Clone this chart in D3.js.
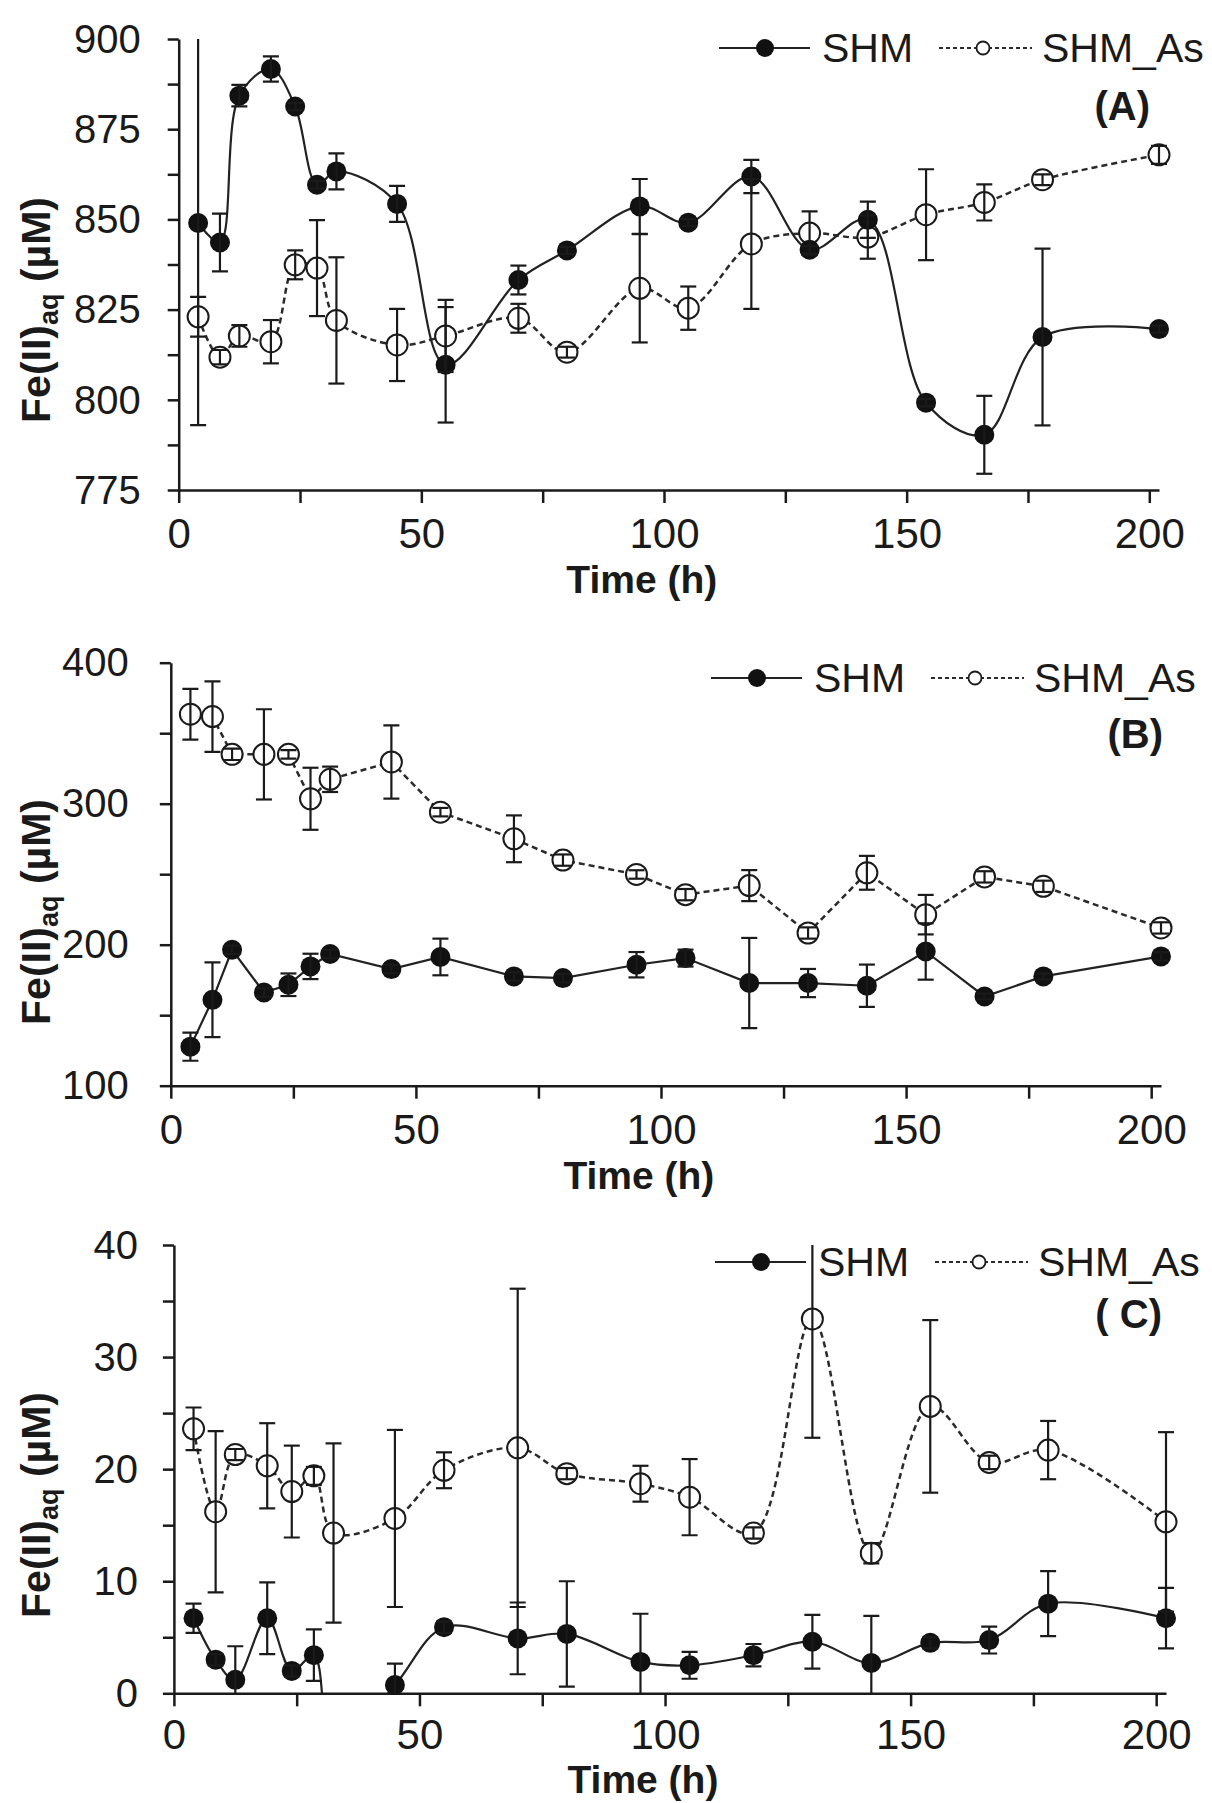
<!DOCTYPE html>
<html>
<head>
<meta charset="utf-8">
<script src="https://cdn.jsdelivr.net/npm/d3@7"></script>
<style>
  body { margin: 0; background: #fff; }
  text { font-family: Arial, "Liberation Sans", sans-serif; fill: #1a1a1a; }
</style>
</head>
<body>
<svg id="fig" width="1212" height="1803"></svg>
<script>
// sampling times (h), shared by all three panels
var times = [4, 8.5, 12.5, 19, 24, 28.5, 32.5, 45, 55, 70, 80, 95, 105, 118, 130, 142, 154, 166, 178, 202];

// (A)
var shmA      = [849, 843.6, 884.3, 891.7, 881.3, 859.6, 863.3, 854.3, 809.7, 833.2, 841.4, 853.6, 849.1, 861.9, 841.6, 849.9, 799.2, 790.3, 817.4, 819.6];
var shmAErr   = [56, 8, 3, 3.5, 1, 1, 5, 5, 16, 4, 1, 7.6, 1, 4.6, 1, 5, 1, 10.8, 24.5, 1];
var shmAsA    = [823, 811.8, 817.7, 816.1, 837.4, 836.5, 822.0, 815.2, 817.7, 822.6, 813.2, 830.9, 825.4, 843.2, 846.2, 845.1, 851.3, 854.7, 861.0, 867.9];
var shmAsAErr = [5.5, 2, 3, 6, 4, 13.3, 17.5, 10, 10, 4, 1.5, 15, 6, 18, 6, 6, 12.6, 5, 1.5, 2.5];

// (B)
var shmB      = [127.7, 160.9, 196.4, 166.1, 171.6, 184.6, 193.4, 182.7, 191.3, 177.5, 176.3, 185.8, 190.5, 172.8, 172.8, 170.9, 195.2, 163.3, 177.5, 191.7];
var shmBErr   = [10, 26.5, 3, 3, 8, 9, 3, 3, 13, 3, 3, 9, 6, 32, 10, 15, 20, 2, 2, 3];
var shmAsB    = [363.5, 361.8, 335, 335, 335, 303.5, 317.3, 329.6, 294, 275.1, 260, 249.8, 235.5, 241.9, 208.3, 251, 221.3, 248.1, 241.4, 211.9];
var shmAsBErr = [18, 25, 4, 32, 3, 22, 9, 26, 3, 16.6, 4, 3, 4, 11, 4, 12, 14, 4, 4, 4];

// (C)  -- point at 32.5 h lies below the axis and is cut off
var shmC      = [6.7, 3.0, 1.2, 6.7, 2.0, 3.4, -5, 0.74, 5.9, 4.9, 5.3, 2.8, 2.5, 3.4, 4.6, 2.7, 4.5, 4.75, 8.0, 6.7];
var shmCErr   = [1.3, 0.5, 3, 3.2, 0.5, 2.3, 0, 1.9, 0.5, 3.2, 4.7, 4.3, 1.2, 1, 2.4, 4.2, 0.5, 1.2, 2.9, 2.7];
var shmAsC    = [23.6, 16.2, 21.3, 20.3, 18.0, 19.4, 14.3, 15.6, 19.9, 21.9, 19.6, 18.7, 17.5, 14.3, 33.4, 12.5, 25.6, 20.6, 21.7, 15.3];
var shmAsCErr = [1.9, 7.2, 0.5, 3.8, 4.1, 0.8, 8, 7.9, 1.6, 14.2, 0.5, 1.6, 3.4, 0.5, 10.6, 0.9, 7.7, 0.6, 2.6, 8];

var xTicks = d3.range(0, 201, 25);
var seriesNames = ["SHM", "SHM_As"];

var svg = d3.select("#fig");
svg.append("rect").attr("width", 1212).attr("height", 1803).attr("fill", "#fff");

var ink = "#1a1a1a";

var panels = [
    {name: "A", label: "(A)", left: 178.7, right: 1159, top: 39, bottom: 490,
     yDomain: [775, 900], yTicks: d3.range(775, 900.1, 12.5), yLabelStep: 25, yPad: 27,
     smooth: true, shm: shmA, shmErr: shmAErr, as: shmAsA, asErr: shmAsAErr,
     labelY: 310, legendY: 48, legX: 719, tagX: 1150, tagY: 120, tickBase: 58, titleOff: 103},
    {name: "B", label: "(B)", left: 170.8, right: 1161, top: 662.7, bottom: 1085.7,
     yDomain: [100, 400], yTicks: d3.range(100, 400.1, 50), yLabelStep: 100, yPad: 31,
     smooth: false, shm: shmB, shmErr: shmBErr, as: shmAsB, asErr: shmAsBErr,
     labelY: 912, legendY: 678, legX: 711, tagX: 1163, tagY: 748, tickBase: 58, titleOff: 103},
    {name: "C", label: "( C)", left: 173.9, right: 1166, top: 1245, bottom: 1693.3,
     yDomain: [0, 40], yTicks: d3.range(0, 40.1, 5), yLabelStep: 10, yPad: 25,
     smooth: true, shm: shmC, shmErr: shmCErr, as: shmAsC, asErr: shmAsCErr,
     labelY: 1505, legendY: 1262, legX: 715, tagX: 1162, tagY: 1328, tickBase: 56, titleOff: 100}
];

panels.forEach(drawPanel);

function drawPanel(p) {
    var g = svg.append("g");
    var x = d3.scaleLinear().domain([0, 202]).range([p.left, p.right]);
    var y = d3.scaleLinear().domain(p.yDomain).range([p.bottom, p.top]);

    var clipId = "clip" + p.name;
    svg.append("clipPath").attr("id", clipId)
        .append("rect")
        .attr("x", p.left).attr("y", p.top)
        .attr("width", p.right - p.left + 30).attr("height", p.bottom - p.top);

    // axes
    var xAxis = d3.axisBottom(x).tickValues(xTicks).tickSize(13).tickSizeOuter(0)
        .tickFormat(function (d) { return d % 50 === 0 ? d : ""; });
    var gx = g.append("g").attr("transform", "translate(0," + p.bottom + ")").call(xAxis);

    var yAxis = d3.axisLeft(y).tickValues(p.yTicks).tickSize(11).tickSizeOuter(0).tickPadding(p.yPad)
        .tickFormat(function (d) { return (d - p.yDomain[0]) % p.yLabelStep === 0 ? d : ""; });
    var gy = g.append("g").attr("transform", "translate(" + p.left + ",0)").call(yAxis);

    [gx, gy].forEach(function (a) {
        a.selectAll("path, line").attr("stroke", ink).attr("stroke-width", 2.5);
        a.selectAll("text").attr("fill", ink)
            .style("font-family", "Arial, 'Liberation Sans', sans-serif");
    });
    gx.selectAll("text").attr("font-size", 42).attr("y", p.tickBase).attr("dy", null);
    gy.selectAll("text").attr("font-size", 40).attr("dy", "0.33em");

    // axis titles
    g.append("text")
        .attr("x", (p.left + p.right) / 2 - 27).attr("y", p.bottom + p.titleOff)
        .attr("text-anchor", "middle").attr("font-size", 39).attr("font-weight", "bold")
        .text("Time (h)");

    var yl = g.append("text")
        .attr("transform", "translate(50," + p.labelY + ") rotate(-90)")
        .attr("text-anchor", "middle").attr("font-size", 41).attr("font-weight", "bold");
    yl.append("tspan").text("Fe(II)");
    yl.append("tspan").attr("font-size", 27).attr("dy", 8).text("aq");
    yl.append("tspan").attr("dy", -8).text(" (\u00b5M)");

    // panel tag
    g.append("text")
        .attr("x", p.tagX).attr("y", p.tagY)
        .attr("text-anchor", "end").attr("font-size", 40).attr("font-weight", "bold")
        .text(p.label);

    // series
    var plot = g.append("g").attr("clip-path", "url(#" + clipId + ")");
    var line = d3.line()
        .x(function (d, i) { return x(times[i]); })
        .y(function (d) { return y(d); })
        .curve(p.smooth ? d3.curveCatmullRom : d3.curveLinear);

    plot.append("path").datum(p.as)
        .attr("fill", "none").attr("stroke", "#2a2a2a").attr("stroke-width", 2.5)
        .attr("stroke-dasharray", "6,4").attr("d", line);
    plot.append("path").datum(p.shm)
        .attr("fill", "none").attr("stroke", "#222").attr("stroke-width", 2.2)
        .attr("d", line);

    function inside(v) { return v >= p.yDomain[0] && v <= p.yDomain[1]; }

    var pts = g.append("g");
    p.as.forEach(function (v, i) {
        if (!inside(v)) return;
        pts.append("circle").attr("cx", x(times[i])).attr("cy", y(v))
            .attr("r", 10.5).attr("fill", "#fff").attr("stroke", ink).attr("stroke-width", 2);
    });
    p.shm.forEach(function (v, i) {
        if (!inside(v)) return;
        pts.append("circle").attr("cx", x(times[i])).attr("cy", y(v))
            .attr("r", 10).attr("fill", "#111");
    });

    // error bars, on top so they show through the open circles
    var bars = g.append("g").attr("clip-path", "url(#" + clipId + ")")
        .attr("stroke", ink).attr("stroke-width", 2.2);
    function errorBars(vals, errs) {
        vals.forEach(function (v, i) {
            if (!inside(v) || !errs[i]) return;
            var cx = x(times[i]), lo = y(v - errs[i]), hi = y(v + errs[i]);
            bars.append("line").attr("x1", cx).attr("x2", cx).attr("y1", lo).attr("y2", hi);
            bars.append("line").attr("x1", cx - 8).attr("x2", cx + 8).attr("y1", lo).attr("y2", lo);
            bars.append("line").attr("x1", cx - 8).attr("x2", cx + 8).attr("y1", hi).attr("y2", hi);
        });
    }
    errorBars(p.as, p.asErr);
    errorBars(p.shm, p.shmErr);

    // legend
    var lg = g.append("g").attr("transform", "translate(" + p.legX + "," + p.legendY + ")");
    lg.append("line").attr("x1", 0).attr("x2", 91).attr("stroke", "#222").attr("stroke-width", 2.2);
    lg.append("circle").attr("cx", 46).attr("r", 9).attr("fill", "#111");
    lg.append("text").attr("x", 103).attr("y", 14).attr("font-size", 41).text(seriesNames[0]);
    lg.append("line").attr("x1", 220).attr("x2", 313).attr("stroke", "#2a2a2a")
        .attr("stroke-width", 2).attr("stroke-dasharray", "4,3");
    lg.append("circle").attr("cx", 264).attr("r", 6.5).attr("fill", "#fff")
        .attr("stroke", ink).attr("stroke-width", 1.8);
    lg.append("text").attr("x", 323).attr("y", 14).attr("font-size", 41).text(seriesNames[1]);
}
</script>
</body>
</html>
